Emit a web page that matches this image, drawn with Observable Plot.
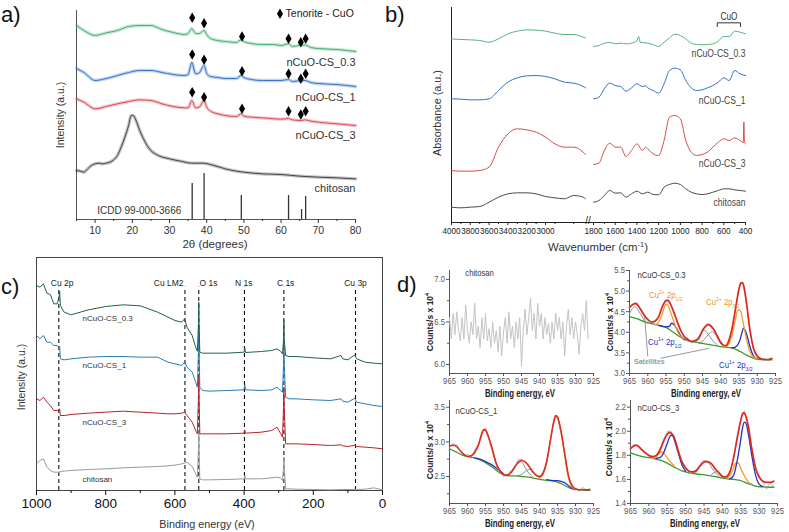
<!DOCTYPE html>
<html><head><meta charset="utf-8">
<script src="https://cdn.jsdelivr.net/npm/d3@7"></script>
<script src="https://cdn.jsdelivr.net/npm/@observablehq/plot@0.6"></script>
<style>
body{margin:0;background:#fff;}
#fig{position:relative;width:789px;height:532px;overflow:hidden;background:#fff;font-family:"Liberation Sans",Arial,sans-serif;color:#333}
#fig svg{position:absolute;left:0;top:0;}
.t{position:absolute;white-space:nowrap;line-height:1}
.t sup,.t sub{font-size:0.65em;line-height:0}
</style></head><body><div id="fig"></div><script>
// ================= DATA =================
// ---- (a) XRD ----
const xrdXDomain = [5, 80];
const xrdYDomain = [0, 627];
const xrdTicks = [10, 20, 30, 40, 50, 60, 70, 80];
const xrdMinor = [5, 15, 25, 35, 45, 55, 65, 75];
const xrdAngle = [5,7,10,13,16,19,22,25,28,31,34,35,36,37,38,39.3,40,41,43,45,48,49.3,50,52,55,58,60,62,63,65.5,66.5,68,70,75,80];
const xrdCS03 = [582,567,552,560,567,579,582,582,570,561,555,558,573,558,558,567,555,543,537,534,531,540,534,528,525,525,522,527,519,523,523,516,513,510,504];
const xrdCS1  = [453,441,417,423,432,441,447,447,441,435,432,435,471,437,440,462,438,429,426,423,423,432,426,420,417,417,417,420,414,417,417,411,408,405,399];
const xrdCS3  = [362,352,332,339,347,354,359,357,347,339,335,335,357,335,337,357,337,325,317,312,309,317,310,307,305,302,301,303,299,297,299,295,292,287,282];
const xrdChitAngle = [5,6,7,8,9,10,11,12,13,14,15,16,17,18,19,19.7,20.2,21,22,23,24,25,27,30,33,36,39,42,45,48,50,55,60,65,70,75,80];
const xrdChit = [147,145,142,152,162,167,169,167,169,172,179,192,217,247,282,312,312,297,267,242,222,207,192,182,175,169,169,162,152,145,142,137,135,130,127,125,122];
const icddAngle = [36.1, 39.3, 49.3, 62.0, 65.5, 66.6];
const icddHeight = [108, 138, 72, 72, 30, 69];
const tenoriteAngle = [36.1, 39.3, 49.5, 62.0, 65.3, 66.6];
const tenoriteCS03 = [605, 589, 549, 542, 532, 542];
const tenoriteCS1 = [495, 479, 445, 437, 422, 437];
const tenoriteCS3 = [382, 367, 332, 325, 315, 325];
const sampleNames = ["nCuO-CS_0.3", "nCuO-CS_1", "nCuO-CS_3", "chitosan"];
const xrdLabelY = [471, 366, 252, 93];
const xrdLegend = {x: 59.7, y: 617, textX: 61.2, text: "Tenorite - CuO"};
const icddLabel = {x: 10.6, y: 27, text: "ICDD 99-000-3666"};

// ---- (b) FTIR ----
const ftirXDomain = [4000, 2575, 1800, 400];
const ftirYDomain = [0, 645];
const ftirTicks = [4000,3800,3600,3400,3200,3000,1800,1600,1400,1200,1000,800,600,400];
const ftirMinor = [3900,3700,3500,3300,3100,2900,2700,1700,1500,1300,1100,900,700,500];
const ftirLeftW = [4000,3900,3800,3700,3600,3500,3400,3300,3200,3100,3000,2900,2800,2700,2600,2575];
const ftirCS03L = [551,549,548,546,541,551,566,574,578,577,574,568,564,564,556,554];
const ftirCS1L  = [371,370,368,368,371,396,421,434,440,441,438,431,421,418,408,404];
const ftirCS3L  = [156,154,154,156,166,226,266,281,278,271,256,236,226,226,211,204];
const ftirChitL = [46,44,46,48,61,76,86,89,89,86,78,74,71,81,76,71];
const ftirCS03RW = [1800,1750,1700,1650,1600,1550,1500,1450,1400,1384,1370,1300,1250,1200,1150,1100,1050,1000,950,900,850,800,750,700,650,600,550,500,450,400];
const ftirCS03R  = [528,531,538,540,536,538,536,538,545,558,541,538,534,528,541,554,565,561,551,538,534,533,534,536,544,558,558,574,571,566];
const ftirCS1RW = [1800,1750,1700,1650,1600,1550,1500,1450,1400,1350,1320,1300,1250,1200,1150,1100,1050,1000,950,900,850,800,750,700,650,600,550,500,450,400];
const ftirCS1R  = [371,376,401,418,411,408,394,404,416,408,410,404,396,388,416,456,463,458,426,404,396,398,404,411,421,434,426,456,446,441];
const ftirCS3RW = [1800,1750,1700,1650,1600,1550,1500,1450,1400,1350,1320,1300,1250,1200,1150,1100,1050,1000,950,900,850,800,750,700,650,600,550,500,450,420,415,410,400];
const ftirCS3R  = [174,178,216,238,226,226,198,216,236,216,226,221,206,201,246,316,321,311,246,211,201,204,211,226,241,251,246,254,246,240,301,240,236];
const ftirChitRW = [1800,1750,1700,1650,1600,1550,1500,1450,1400,1350,1300,1250,1200,1150,1100,1050,1000,950,900,850,800,750,700,650,600,550,500,450,400];
const ftirChitR  = [61,66,81,96,88,89,76,86,94,86,91,84,83,106,114,118,114,101,91,86,84,86,91,96,101,101,98,96,94];
const ftirLabelY = [507, 366, 177, 60];
const cuoBracketW = [660, 660, 446, 446];
const cuoBracketY = [588, 599, 599, 588];
const cuoLabel = {x: 553, y: 619, text: "CuO"};

// ---- (c) XPS survey ----
const surveyXDomain = [1000, 0];
const surveyYDomain = [0, 699];
const surveyTicks = [1000, 800, 600, 400, 200, 0];
const surveyMinor = [900, 700, 500, 300, 100];
const surveyBE = [1000,990,980,970,960,950,940,935,933,931,920,900,850,800,750,700,650,620,600,580,572,565,550,540,535,532,531,530,528,520,500,450,400,398,396,350,320,305,295,289,286,285,284,280,270,250,200,150,120,115,100,80,75,50,25,0];
const surveyCS03 = [615,610,620,592,588,560,560,580,598,555,535,527,542,552,557,554,535,520,510,505,515,490,465,430,418,500,565,500,415,412,412,412,415,428,414,417,420,425,418,410,450,510,450,405,402,402,398,395,405,395,392,407,395,385,382,380];
const surveyCS1 = [465,455,465,445,445,435,435,428,432,395,392,395,400,402,402,400,400,385,380,375,385,370,355,325,310,420,495,420,310,300,298,300,302,318,302,300,302,310,300,295,380,445,380,280,275,275,272,270,275,268,265,277,265,260,255,252];
const surveyCS3 = [275,270,280,265,255,240,240,242,245,225,225,228,232,235,238,235,232,230,230,232,235,225,205,180,170,280,340,280,170,170,170,170,172,182,172,175,180,190,172,160,250,310,250,140,140,140,138,135,137,134,132,136,132,130,128,125];
const surveyChit = [80,90,95,70,60,55,55,55,56,57,58,60,63,65,68,70,72,74,76,80,82,85,72,50,40,120,180,120,35,32,32,33,35,45,35,35,38,40,38,30,70,100,70,5,5,4,3,2,3,3,3,3,3,4,8,2];
const surveyPeakBE = [935.5, 571, 531, 399, 285, 78];
const surveyPeakTop = 610;
const surveyPeakNames = ["Cu 2p", "Cu LM2", "O 1s", "N 1s", "C 1s", "Cu 3p"];
const surveyPeakLabelBE = [926, 618, 503, 401, 280, 78];
const surveyPeakLabelY = 622;
const surveyLabelBE = 867;
const surveyLabelY = [516, 375, 204, 33];

// ---- (d) XPS Cu 2p high resolution ----
const hrXDomain = [965, 925];
const hrTicks = [965, 960, 955, 950, 945, 940, 935, 930, 925];
const hrBE = [965,964,963,962,961,960,959,958,957,956,955,954,953,952,951,950,949,948,947,946,945,944,943,942,941,940,939,938,937,936,935,934,933,932,931,930,929,928,927,926];
const hrBgBE = [965,963,961,959,957,955,953,951,949,947,945,943,941,939,937,935,933,931,929,927,926];
// d1 chitosan
const d1YDomain = [5.894, 7.105];
const d1YTicks = [6.0, 6.5, 7.0];
const d1YMinor = [6.25, 6.75];
const d1BE = [965,964.5,964,963.5,963,962.5,962,961.5,961,960.5,960,959.5,959,958.5,958,957.5,957,956.5,956,955.5,955,954.5,954,953.5,953,952.5,952,951.5,951,950.5,950,949.5,949,948.5,948,947.5,947,946.5,946,945.5,945,944.5,944,943.5,943,942.5,942,941.5,941,940.5,940,939.5,939,938.5,938,937.5,937,936.5,936,935.5,935,934.5,934,933.5,933,932.5,932,931.5,931,930.5,930,929.5,929,928.5,928,927.5,927,926.5];
const d1Raw = [6.55,6.30,6.60,6.35,6.62,6.40,6.28,6.55,6.30,6.70,6.40,6.25,6.50,6.35,6.72,6.30,6.45,6.20,6.55,6.30,6.60,6.28,6.42,6.20,6.50,6.25,6.40,6.15,6.45,6.10,6.38,6.55,6.25,6.62,6.30,6.45,6.20,6.50,6.30,6.55,5.98,6.40,6.65,6.35,6.55,6.78,6.40,6.60,6.30,6.72,6.45,6.60,6.30,6.55,6.35,6.48,6.25,6.50,6.30,6.60,6.40,6.55,6.30,6.50,6.10,6.45,6.65,6.35,6.55,6.30,6.50,6.35,6.12,6.45,6.60,6.40,6.75,6.30];
// d2 nCuO-CS_0.3
const d2YDomain = [3.0, 5.5];
const d2YTicks = [3.0, 3.5, 4.0, 4.5, 5.0, 5.5];
const d2YMinor = [3.25, 3.75, 4.25, 4.75, 5.25];
const d2Raw = [4.62,4.66,4.72,4.55,4.40,4.33,4.22,4.30,4.36,4.65,4.74,4.75,4.55,4.26,4.08,3.88,3.86,3.74,3.82,3.83,4.08,4.14,4.20,4.10,3.90,3.78,3.66,3.72,4.08,4.50,5.08,5.22,4.72,4.10,3.58,3.45,3.34,3.37,3.31,3.38];
const d2EnvBE = [965,964,963.5,963,962,961,960,959,958,957,956,955,954.5,954,953,952,951,950,949,948,947,946,945,944,943.5,943,942,941,940,939,938.5,938,937,936,935,934.5,934,933.5,933,932,931,930,929,928,927,926];
const d2Env = [4.60,4.68,4.70,4.68,4.56,4.42,4.31,4.25,4.27,4.38,4.62,4.77,4.78,4.72,4.52,4.28,4.05,3.90,3.82,3.78,3.79,3.86,4.04,4.16,4.19,4.17,4.08,3.92,3.75,3.68,3.68,3.75,4.05,4.55,5.05,5.20,5.20,5.05,4.75,4.05,3.60,3.42,3.36,3.34,3.34,3.36];
const d2Bg = [4.38,4.33,4.26,4.21,4.17,4.12,4.00,3.88,3.80,3.76,3.73,3.70,3.67,3.64,3.62,3.55,3.45,3.37,3.34,3.33,3.33];
const d2Cu2aBE = [958,957,956,955.5,955,954.5,954,953,952,951,950];
const d2Cu2a = [4.18,4.25,4.45,4.60,4.68,4.66,4.55,4.30,4.05,3.90,3.84];
const d2Cu2bBE = [939,938,937,936,935.5,935,934.5,934,933,932,931,930];
const d2Cu2b = [3.64,3.68,3.90,4.30,4.50,4.55,4.50,4.30,3.85,3.52,3.40,3.35];
const d2Cu1aBE = [957,955,954,953.5,953,952,951,950];
const d2Cu1a = [4.17,4.13,4.15,4.22,4.20,4.08,3.92,3.82];
const d2Cu1bBE = [937,936,935,934,933.8,933,932,931,930];
const d2Cu1b = [3.62,3.64,3.75,4.05,4.10,3.98,3.65,3.42,3.35];
const d2SatABE = [965,964,963.5,963,962,961,960];
const d2SatA = [4.45,4.60,4.62,4.58,4.45,4.30,4.22];
const d2SatBBE = [948,947,946,945,944.5,944,943,942,941];
const d2SatB = [3.77,3.80,3.90,4.02,4.05,4.02,3.90,3.78,3.70];
const d2SatCBE = [946,945,944,943,942.3,942,941,940,939];
const d2SatC = [3.74,3.78,3.88,3.98,4.02,4.00,3.88,3.72,3.65];
const satLeaderX1 = [960.0, 956.5], satLeaderY1 = [3.42, 3.37];
const satLeaderX2 = [960.9, 943.3], satLeaderY2 = [4.42, 3.61];
// d3 nCuO-CS_1
const d3YDomain = [2.11, 3.597];
const d3YTicks = [2.5, 3.0, 3.5];
const d3YMinor = [2.25, 2.75, 3.25];
const d3Raw = [2.93,2.97,2.96,2.86,2.80,2.82,2.77,2.88,2.97,3.14,3.20,3.03,2.90,2.66,2.60,2.50,2.53,2.58,2.60,2.74,2.75,2.70,2.68,2.56,2.53,2.49,2.57,2.70,3.00,3.33,3.37,3.12,2.85,2.50,2.39,2.33,2.29,2.34,2.30,2.33];
const d3EnvBE = [965,964,963,962,961,960,959,958,957,956,955.5,955,954,953,952,951,950,949,948,947,946,945,944,943,942,941,940,939,938,937,936,935.5,935,934,933,932,931,930,929,928,927,926];
const d3Env = [2.94,2.95,2.93,2.87,2.82,2.79,2.80,2.85,2.95,3.12,3.18,3.17,3.05,2.87,2.69,2.58,2.53,2.52,2.55,2.63,2.70,2.73,2.71,2.65,2.58,2.52,2.50,2.55,2.72,3.02,3.30,3.38,3.36,3.15,2.83,2.52,2.37,2.32,2.31,2.31,2.31,2.31];
const d3Bg = [2.90,2.85,2.80,2.78,2.75,2.70,2.63,2.55,2.51,2.51,2.50,2.49,2.47,2.45,2.44,2.42,2.37,2.32,2.31,2.30,2.30];
const d3Cu2aBE = [959,958,957,956,955.5,955,954,953,952,951,950];
const d3Cu2a = [2.79,2.84,2.94,3.11,3.17,3.16,3.04,2.85,2.67,2.57,2.53];
const d3Cu2bBE = [940,939,938,937,936,935.5,935,934,933,932,931,930];
const d3Cu2b = [2.47,2.53,2.70,3.00,3.28,3.36,3.34,3.13,2.80,2.49,2.35,2.31];
const d3Cu1aBE = [958,956,954,953,952,951,950];
const d3Cu1a = [2.77,2.74,2.69,2.66,2.62,2.58,2.54];
const d3Cu1bBE = [938,936,935,934,933,932,931,930];
const d3Cu1b = [2.455,2.44,2.44,2.43,2.41,2.37,2.33,2.31];
const d3SatABE = [949,948,947,946,945.3,944.5,944,943,942];
const d3SatA = [2.52,2.55,2.62,2.69,2.71,2.68,2.63,2.55,2.50];
const d3SatBBE = [946,945,944,943,942.5,942,941,940];
const d3SatB = [2.51,2.53,2.57,2.60,2.60,2.57,2.52,2.48];
// d4 nCuO-CS_3
const d4YDomain = [1.4, 2.255];
const d4YTicks = [1.4, 1.6, 1.8, 2.0, 2.2];
const d4YMinor = [1.5, 1.7, 1.9, 2.1];
const d4Raw = [1.86,1.89,1.87,1.84,1.83,1.79,1.80,1.78,1.86,1.90,2.00,2.00,1.93,1.84,1.75,1.70,1.66,1.67,1.66,1.73,1.76,1.74,1.74,1.68,1.67,1.62,1.63,1.65,1.78,1.92,2.10,2.17,2.04,1.86,1.69,1.63,1.58,1.52,1.57,1.54];
const d4EnvBE = [965,964,963.5,963,962,961,960,959,958,957,956,955,954.3,954,953,952,951,950,949,948,947,946,945,944.3,943,942,941,940,939,938,937,936,935,934.5,934.2,934,933,932,931,930,929,928,927,926];
const d4Env = [1.855,1.88,1.885,1.88,1.85,1.82,1.80,1.787,1.80,1.84,1.92,1.975,1.99,1.985,1.94,1.835,1.745,1.695,1.668,1.662,1.676,1.715,1.745,1.75,1.73,1.69,1.655,1.625,1.62,1.66,1.77,1.94,2.09,2.145,2.153,2.15,2.05,1.855,1.70,1.62,1.585,1.575,1.575,1.585];
const d4Bg = [1.82,1.80,1.785,1.775,1.76,1.735,1.70,1.67,1.655,1.645,1.638,1.628,1.618,1.607,1.60,1.59,1.565,1.545,1.538,1.535,1.535];
const d4Cu1aBE = [958,957,956,955,954,953.5,953,952,951,950];
const d4Cu1a = [1.775,1.78,1.82,1.90,1.965,1.96,1.92,1.82,1.72,1.67];
const d4Cu1bBE = [938,937,936,935,934.5,934,933.5,933,932,931,930,929];
const d4Cu1b = [1.605,1.63,1.75,1.93,2.03,2.075,2.06,1.99,1.80,1.64,1.56,1.54];
const d4Cu2aBE = [959,958,957,956.5,956,955,954,953];
const d4Cu2a = [1.775,1.79,1.82,1.83,1.82,1.78,1.74,1.71];
const d4Cu2bBE = [939,938,937,936.5,936,935.5,935,934,933,932];
const d4Cu2b = [1.61,1.63,1.69,1.73,1.74,1.73,1.69,1.63,1.58,1.56];
const d4SatABE = [948,947,946,945,944.3,943.5,943,942,941];
const d4SatA = [1.65,1.67,1.71,1.74,1.745,1.73,1.70,1.66,1.635];
const d4SatBBE = [943,942,941.5,941,940,939];
const d4SatB = [1.64,1.66,1.665,1.66,1.63,1.61];
const hrSampleLabel = [
  {x: 960.6, y: 7.07, text: "chitosan"},
  {x: 962.8, y: 5.40, text: "nCuO-CS_0.3"},
  {x: 963.3, y: 3.45, text: "nCuO-CS_1"},
  {x: 963.1, y: 2.19, text: "nCuO-CS_3"}
];

// ================= DRAWING =================
const fig = document.getElementById("fig");
const REG = '"Liberation Sans", Arial, sans-serif';
const pts = (xs, ys) => xs.map((x, i) => ({x, y: ys[i]}));
const fmtInt = d3.format("d");
const fmt1 = d3.format(".1f");
const blank = () => "";

function place(g, opts, size) {
  const svg = Plot.plot(Object.assign({
    width: 789, height: 532,
    marginLeft: g[0], marginRight: 789 - g[1], marginTop: g[2], marginBottom: 532 - g[3],
    style: {background: "transparent", overflow: "visible", fontFamily: REG, fontSize: size + "px",
            position: "absolute", left: "0px", top: "0px"}
  }, opts));
  fig.appendChild(svg);
  return svg;
}
// horizontally condense svg texts (the original uses a narrow face)
function squeeze(svg, f, numbersToo) {
  svg.querySelectorAll("text").forEach(t => {
    if (!numbersToo && /^[\d.]+$/.test(t.textContent.trim())) return;
    const len = t.getComputedTextLength();
    if (len > 0) { t.setAttribute("textLength", (len * f).toFixed(2)); t.setAttribute("lengthAdjust", "spacingAndGlyphs"); }
  });
}
function T(html, x, y, o = {}) {
  const d = document.createElement("div");
  d.className = "t"; d.innerHTML = html;
  const ax = o.anchor === "start" ? "0%" : o.anchor === "end" ? "-100%" : "-50%";
  d.style.transformOrigin = o.anchor === "start" ? "0 50%" : o.anchor === "end" ? "100% 50%" : "50% 50%";
  d.style.left = x + "px"; d.style.top = y + "px";
  d.style.fontSize = (o.size || 11) + "px";
  d.style.color = o.color || "#333";
  if (o.weight) d.style.fontWeight = o.weight;
  d.style.transform = `translate(${ax},-50%)` + (o.rotate ? " rotate(-90deg)" : "") + (o.sx ? ` scaleX(${o.sx})` : "");
  fig.appendChild(d);
}
// a noisy diffractogram is drawn as a soft band plus a thin trace
const fuzzy = (xs, ys, stroke) => [
  Plot.line(pts(xs, ys), {x: "x", y: "y", stroke, strokeWidth: 3.4, strokeOpacity: 0.3, curve: "monotone-x"}),
  Plot.line(pts(xs, ys), {x: "x", y: "y", stroke, strokeWidth: 1, strokeOpacity: 0.95, curve: "monotone-x"})
];

// ---- panel a ----
const C_A = {g: "#3fae6e", b: "#2f6fcb", r: "#d8474b", k: "#3d3d3d"};
place([76, 355, 10, 219], {
  x: {domain: xrdXDomain},
  y: {domain: xrdYDomain, axis: null},
  marks: [
    Plot.ruleX([xrdXDomain[0]], {stroke: "#555"}),
    Plot.ruleY([xrdYDomain[0]], {stroke: "#555"}),
    Plot.axisX({ticks: xrdTicks, tickSize: 4, tickPadding: 3, tickFormat: fmtInt, label: null, color: "#333", fontSize: 10.5}),
    Plot.axisX({ticks: xrdMinor, tickSize: 2, tickFormat: blank, label: null, color: "#333"}),
    Plot.ruleX(pts(icddAngle, icddHeight), {x: "x", y1: 0, y2: "y", stroke: "#333", strokeWidth: 1.3}),
    ...fuzzy(xrdChitAngle, xrdChit, C_A.k),
    ...fuzzy(xrdAngle, xrdCS3, C_A.r),
    ...fuzzy(xrdAngle, xrdCS1, C_A.b),
    ...fuzzy(xrdAngle, xrdCS03, C_A.g),
    Plot.dot([...pts(tenoriteAngle, tenoriteCS03), ...pts(tenoriteAngle, tenoriteCS1), ...pts(tenoriteAngle, tenoriteCS3), {x: xrdLegend.x, y: xrdLegend.y}],
      {x: "x", y: "y", symbol: "diamond", fill: "#000", r: 3.2}),
    Plot.text([xrdLegend], {x: "textX", y: "y", text: "text", textAnchor: "start", fontSize: 10.5, fill: "#222"}),
    Plot.text(sampleNames.map((t, i) => ({t, y: xrdLabelY[i]})), {x: xrdXDomain[1], y: "y", text: "t", textAnchor: "end", fontSize: 11, fill: "#333"}),
    Plot.text([icddLabel], {x: "x", y: "y", text: "text", textAnchor: "start", fontSize: 10, fill: "#333"})
  ]
}, 10.5);

// ---- panel b ----
const C_B = {g: "#58b27c", b: "#2f6fcf", r: "#d94a4a", k: "#4a4a4a"};
const svgB = place([451, 745, 7, 222], {
  x: {type: "linear", domain: ftirXDomain, range: [451, 585, 593, 745]},
  y: {domain: ftirYDomain, axis: null},
  marks: [
    Plot.ruleX([ftirXDomain[0]], {stroke: "#222"}),
    Plot.ruleY([ftirYDomain[0]], {stroke: "#222"}),
    Plot.axisX({ticks: ftirTicks, tickSize: 3, tickPadding: 2.5, tickFormat: fmtInt, label: null, color: "#222", fontSize: 8.2}),
    Plot.axisX({ticks: ftirMinor, tickSize: 2, tickFormat: blank, label: null, color: "#222"}),
    Plot.line(pts(ftirLeftW, ftirChitL), {x: "x", y: "y", stroke: C_B.k, strokeWidth: 1, curve: "monotone-x"}),
    Plot.line(pts(ftirChitRW, ftirChitR), {x: "x", y: "y", stroke: C_B.k, strokeWidth: 1, curve: "monotone-x"}),
    Plot.line(pts(ftirLeftW, ftirCS3L), {x: "x", y: "y", stroke: C_B.r, strokeWidth: 1, curve: "monotone-x"}),
    Plot.line(pts(ftirCS3RW, ftirCS3R), {x: "x", y: "y", stroke: C_B.r, strokeWidth: 1, curve: "monotone-x"}),
    Plot.line(pts(ftirLeftW, ftirCS1L), {x: "x", y: "y", stroke: C_B.b, strokeWidth: 1, curve: "monotone-x"}),
    Plot.line(pts(ftirCS1RW, ftirCS1R), {x: "x", y: "y", stroke: C_B.b, strokeWidth: 1, curve: "monotone-x"}),
    Plot.line(pts(ftirLeftW, ftirCS03L), {x: "x", y: "y", stroke: C_B.g, strokeWidth: 1, curve: "monotone-x"}),
    Plot.line(pts(ftirCS03RW, ftirCS03R), {x: "x", y: "y", stroke: C_B.g, strokeWidth: 1, curve: "monotone-x"}),
    Plot.line(pts(cuoBracketW, cuoBracketY), {x: "x", y: "y", stroke: "#333", strokeWidth: 1}),
    Plot.text([cuoLabel], {x: "x", y: "y", text: "text", fontSize: 10.5, fill: "#333"}),
    Plot.text(sampleNames.map((t, i) => ({t, y: ftirLabelY[i]})), {x: ftirXDomain[3], y: "y", text: "t", textAnchor: "end", fontSize: 11, fill: "#444"})
  ]
}, 8.2);
squeeze(svgB, 0.78, false);

// ---- panel c ----
const C_C = {g: "#256142", b: "#2b7cb2", r: "#b3262a", k: "#9a9a9a"};
place([36, 382, 257, 490], {
  x: {domain: surveyXDomain},
  y: {domain: surveyYDomain, axis: null},
  marks: [
    Plot.frame({stroke: "#444"}),
    Plot.axisX({ticks: surveyTicks, tickSize: 5, tickPadding: 3, tickFormat: fmtInt, label: null, color: "#111", fontSize: 13.5}),
    Plot.axisX({ticks: surveyMinor, tickSize: 3, tickFormat: blank, label: null, color: "#111"}),
    Plot.ruleX(surveyPeakBE, {x: d => d, y1: 0, y2: surveyPeakTop, stroke: "#111", strokeWidth: 1.1, strokeDasharray: "4,3"}),
    Plot.line(pts(surveyBE, surveyChit), {x: "x", y: "y", stroke: C_C.k, strokeWidth: 1}),
    Plot.line(pts(surveyBE, surveyCS3), {x: "x", y: "y", stroke: C_C.r, strokeWidth: 1}),
    Plot.line(pts(surveyBE, surveyCS1), {x: "x", y: "y", stroke: C_C.b, strokeWidth: 1}),
    Plot.line(pts(surveyBE, surveyCS03), {x: "x", y: "y", stroke: C_C.g, strokeWidth: 1}),
    Plot.text(surveyPeakNames.map((t, i) => ({t, x: surveyPeakLabelBE[i]})), {x: "x", y: surveyPeakLabelY, text: "t", fontSize: 8.5, fill: "#222"}),
    Plot.text(sampleNames.map((t, i) => ({t, y: surveyLabelY[i]})), {x: surveyLabelBE, y: "y", text: "t", textAnchor: "start", fontSize: 8, fill: "#333"})
  ]
}, 13.5);

// ---- panel d ----
const C_D = {env: "#e0281f", cu2: "#f29b30", cu1: "#2233c4", bg: "#3c9a2c", sat: "#8f8f8f", raw: "#c9c9c9"};
function hrPanel(g, yDomain, yTicks, yMinor, marks, label) {
  const svg = place(g, {
    x: {domain: hrXDomain},
    y: {domain: yDomain},
    marks: [
      Plot.ruleX([hrXDomain[0]], {stroke: "#555"}),
      Plot.ruleY([yDomain[0]], {stroke: "#555"}),
      Plot.axisX({ticks: hrTicks, tickSize: 3, tickPadding: 1, tickFormat: fmtInt, label: null, color: "#555", fontSize: 9}),
      Plot.axisY({ticks: yTicks, tickSize: 3, tickPadding: 1.5, tickFormat: fmt1, label: null, color: "#555", fontSize: 9}),
      Plot.axisY({ticks: yMinor, tickSize: 2, tickFormat: blank, label: null, color: "#555"}),
      ...marks,
      Plot.text([label], {x: "x", y: "y", text: "text", textAnchor: "start", fontSize: 9, fill: "#333"})
    ]
  }, 9);
  squeeze(svg, 0.85, true);
}
const L = (xs, ys, stroke, w = 1.3) => Plot.line(pts(xs, ys), {x: "x", y: "y", stroke, strokeWidth: w, curve: "monotone-x"});
const Raw = (xs, ys) => Plot.line(pts(xs, ys), {x: "x", y: "y", stroke: C_D.raw, strokeWidth: 1.2});

hrPanel([449, 593, 270, 373], d1YDomain, d1YTicks, d1YMinor, [
  Plot.line(pts(d1BE, d1Raw), {x: "x", y: "y", stroke: "#c4c4c4", strokeWidth: 1})
], hrSampleLabel[0]);

hrPanel([629, 775, 270, 373], d2YDomain, d2YTicks, d2YMinor, [
  Raw(hrBE, d2Raw),
  L(d2SatABE, d2SatA, C_D.sat, 1), L(d2SatBBE, d2SatB, C_D.sat, 1), L(d2SatCBE, d2SatC, C_D.sat, 1),
  Plot.link([0, 1], {x1: i => satLeaderX1[i], y1: i => satLeaderY1[i], x2: i => satLeaderX2[i], y2: i => satLeaderY2[i], stroke: "#9a9a9a", strokeWidth: 1}),
  L(hrBgBE, d2Bg, C_D.bg),
  L(d2Cu1aBE, d2Cu1a, C_D.cu1), L(d2Cu1bBE, d2Cu1b, C_D.cu1),
  L(d2Cu2aBE, d2Cu2a, C_D.cu2), L(d2Cu2bBE, d2Cu2b, C_D.cu2),
  L(d2EnvBE, d2Env, C_D.env, 1.7)
], hrSampleLabel[1]);

hrPanel([449, 593, 400, 503], d3YDomain, d3YTicks, d3YMinor, [
  Raw(hrBE, d3Raw),
  L(d3SatABE, d3SatA, C_D.sat, 1), L(d3SatBBE, d3SatB, C_D.sat, 1),
  L(hrBgBE, d3Bg, C_D.bg),
  L(d3Cu1aBE, d3Cu1a, C_D.cu1), L(d3Cu1bBE, d3Cu1b, C_D.cu1),
  L(d3Cu2aBE, d3Cu2a, C_D.cu2), L(d3Cu2bBE, d3Cu2b, C_D.cu2),
  L(d3EnvBE, d3Env, C_D.env, 1.5)
], hrSampleLabel[2]);

hrPanel([630, 777, 400, 503], d4YDomain, d4YTicks, d4YMinor, [
  Raw(hrBE, d4Raw),
  L(d4SatABE, d4SatA, C_D.sat, 1), L(d4SatBBE, d4SatB, C_D.sat, 1),
  L(hrBgBE, d4Bg, C_D.bg),
  L(d4Cu2aBE, d4Cu2a, C_D.cu2), L(d4Cu2bBE, d4Cu2b, C_D.cu2),
  L(d4Cu1aBE, d4Cu1a, C_D.cu1), L(d4Cu1bBE, d4Cu1b, C_D.cu1),
  L(d4EnvBE, d4Env, C_D.env, 1.7)
], hrSampleLabel[3]);

// ---- text outside the plot areas ----
T("a)", 1, 15, {anchor: "start", size: 22, color: "#111"});
T("b)", 385, 15, {anchor: "start", size: 22, color: "#111"});
T("c)", 1, 287, {anchor: "start", size: 22, color: "#111"});
T("d)", 397, 285, {anchor: "start", size: 22, color: "#111"});
T("Intensity (a.u.)", 60, 115, {rotate: true, size: 10.5});
T("2θ (degrees)", 215, 245, {size: 11.5});
T("Absorbance (a.u.)", 437, 113, {rotate: true, size: 10.8});
T("Wavenumber (cm<sup>-1</sup>)", 598, 248, {size: 11.4});
T("//", 588, 221, {size: 10, color: "#222"});
T("Intensity (a.u.)", 21, 377, {rotate: true, size: 10.5});
T("Binding energy (eV)", 207, 524, {size: 10.8});
const cps = "Counts/s x 10<sup>4</sup>";
T(cps, 430, 322, {rotate: true, size: 8.5, weight: "bold", color: "#222"});
T(cps, 610, 322, {rotate: true, size: 8.5, weight: "bold", color: "#222"});
T(cps, 430, 450, {rotate: true, size: 8.5, weight: "bold", color: "#222"});
T(cps, 609, 447, {rotate: true, size: 8.5, weight: "bold", color: "#222"});
const be = "Binding energy, eV";
T(be, 520, 393.5, {size: 10, weight: "bold", color: "#222", sx: 0.78});
T(be, 706, 393.5, {size: 10, weight: "bold", color: "#222", sx: 0.78});
T(be, 520, 524, {size: 10, weight: "bold", color: "#222", sx: 0.78});
T(be, 705, 524, {size: 10, weight: "bold", color: "#222", sx: 0.78});
T("Cu<sup>2+</sup> 2p<sub>1/2</sub>", 649, 295, {anchor: "start", size: 9.5, color: "#e8952e", sx: 0.82});
T("Cu<sup>2+</sup> 2p<sub>3/2</sub>", 706, 302, {anchor: "start", size: 9.5, color: "#e8952e", sx: 0.82});
T("Cu<sup>1+</sup> 2p<sub>1/2</sub>", 648, 342, {anchor: "start", size: 9.5, color: "#2233c4", sx: 0.82});
T("Cu<sup>1+</sup> 2p<sub>3/2</sub>", 719, 365, {anchor: "start", size: 9.5, color: "#2233c4", sx: 0.82});
T("Satellites", 634, 361, {anchor: "start", size: 7, color: "#999", weight: "bold"});
</script></body></html>
